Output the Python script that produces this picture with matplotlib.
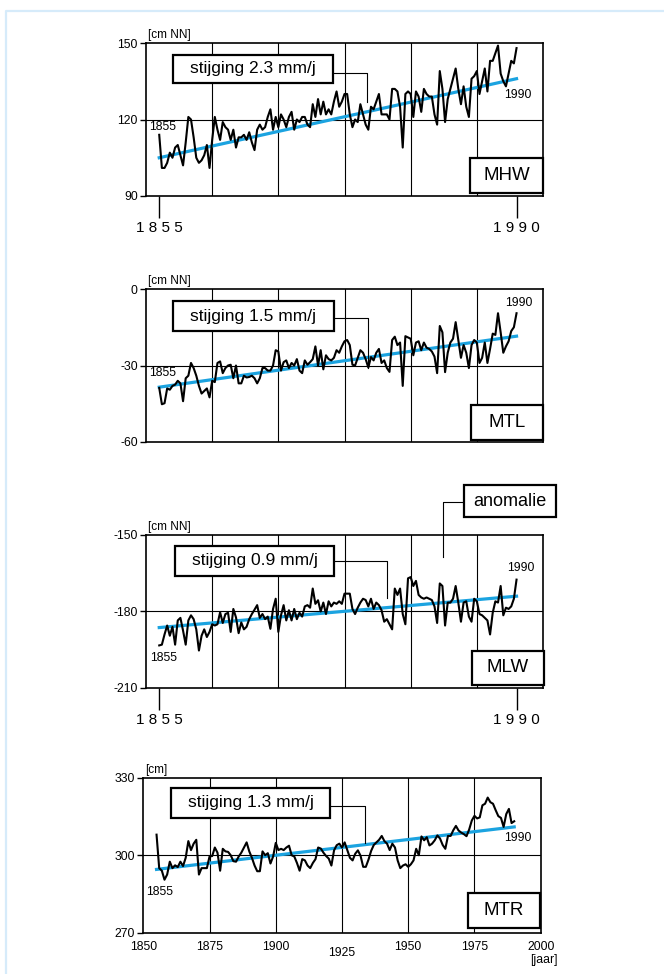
import numpy as np
import matplotlib
matplotlib.use('Agg')
import matplotlib.pyplot as plt
from matplotlib.patches import Rectangle
from matplotlib.lines import Line2D

plt.rcParams['font.family'] = ['Liberation Sans', 'DejaVu Sans']
plt.rcParams['axes.unicode_minus'] = False

W, H = 664, 974

years = np.arange(1855, 1991)

# yearly means (cm)
mhw = [114, 101, 101, 103, 107, 105, 109, 110, 106, 102,
       111, 121, 120, 113, 105, 103, 104, 106, 110, 101,
       112, 121, 116, 112, 119, 117, 116, 112, 116, 109,
       113, 113, 114, 112, 115, 111, 108, 116, 118, 116,
       117, 121, 124, 116, 121, 117, 122, 120, 117, 121,
       123, 116, 120, 119, 121, 121, 118, 117, 126, 121,
       128, 122, 127, 122, 124,
       122, 127, 131, 125, 127, 130, 130, 122, 117, 120,
       119, 126, 122, 118, 116, 125, 124, 127, 130, 122,
       122, 122, 120, 132, 132, 131, 125, 109, 130, 131,
       130, 121, 131, 129, 123, 132, 130, 129, 129, 122,
       118, 139, 132, 119, 128, 132, 136, 140, 132, 126,
       133, 125, 121, 136, 137, 139, 130, 135, 140, 131,
       143, 143, 146, 149, 138, 135, 133, 138, 143, 142,
       148]

mtl = [-38.8, -45.2, -44.8, -39, -39.5, -38, -37.5, -36, -37, -44,
       -35, -34, -29, -31, -34, -38, -41, -40, -39, -42.5,
       -36, -36.5, -29, -28.4, -33, -31, -30, -29.7, -35, -30,
       -37, -37, -34, -34.7, -34.5, -34, -35, -37, -35, -31,
       -31, -32, -32, -30, -24, -24.5, -32, -28.7, -28, -31,
       -29, -30, -27.5, -32, -33, -28, -29.7, -28.7, -27.5, -22.5,
       -30, -24, -31.5, -26, -27.5, -28, -27, -24, -25,
       -22.5, -20.5, -20, -22, -29.7, -30, -27, -24, -25, -27.5,
       -30.8, -26.7, -28, -25, -23.5, -29, -28, -31, -32.5, -20,
       -18.7, -22, -21, -38, -18.5, -19, -19.5, -26, -21, -20.5,
       -24, -21, -23, -23.5, -24.5, -26.5, -33, -14.5, -17, -32.6,
       -25, -21, -19.5, -13, -20, -27, -22, -25, -31, -22,
       -20, -21, -29, -27, -21, -29, -23.5, -17.5, -18, -9.5,
       -17, -25, -22.5, -20.5, -16.5, -15, -9.5]

mlw = [-193.3, -193, -189, -185.5, -189.5, -186, -193, -183.5, -182.5, -187.5,
       -193, -183.5, -181.5, -183, -187, -195.3, -189.5, -187, -190, -188,
       -185, -185.5, -185, -180.3, -184.5, -181, -180.5, -188, -179, -182.3,
       -188.5, -184.3, -187, -186, -183, -181, -179.3, -177.5, -182.5, -181,
       -183, -182, -186.8, -179, -175, -188, -181.5, -177.5, -183.5, -179.5,
       -183.5, -179, -183, -180.5, -182, -178, -177.5, -178.5, -171, -177,
       -175.6, -180, -176.5, -181, -176, -178, -176.5, -177, -176,
       -177, -173, -173, -173, -179, -181, -178.5, -176.5, -175, -175.5,
       -178, -175, -179, -176.5, -177.5, -179.5, -184, -183, -185, -187,
       -171, -173.5, -171, -181, -185, -167, -166.5, -170, -168, -173.5,
       -174.5, -175, -174.5, -175, -175.5, -178, -184.5, -169, -170, -185.5,
       -176.5, -176.5, -175, -170, -176.5, -184, -176.5, -176, -182, -184,
       -175, -176, -181, -181.5, -182.5, -183.5, -189, -180.5, -176, -176.5,
       -170, -181.5, -178.5, -179, -178, -175, -167.5]

mtr = [308, 295, 294, 290.5, 292.5, 297.5, 295, 296.1, 295.4, 297.5,
       295.8, 299, 305.5, 302, 304.5, 306, 292.5, 295, 295, 295,
       299.5, 299.7, 303, 301, 294, 302.5, 301.5, 301.3, 300, 297.7,
       297.5, 299.5, 301, 303, 305, 301.5, 299, 296, 293.8, 293.8,
       301.5, 300, 300.8, 296.8, 299.5, 304.8, 302, 302.5, 302, 303,
       303.7, 300, 299.5, 297, 294, 298.5, 298, 296, 295, 297,
       298.5, 303,
       302.6, 301, 299.7, 298.7, 296, 301.9, 303.9, 304.5, 303, 305,
       302, 299, 298, 300.6, 301.9, 299.8, 295.5, 295.5, 298.3, 301.7,
       304, 305, 306, 307.5, 305.5, 304.5, 302, 304.5, 303, 298,
       295, 296, 296.5, 295.5, 296.5, 298, 302.5, 300, 307.3, 305.8,
       307, 303.8, 304.5, 305.8, 307.7, 306.5, 304, 302.5, 307.5, 307.5,
       309.7, 311.4, 309.6, 308.8, 308.2, 307.4, 310, 313.5, 315.3, 314.3,
       314.7, 319.4, 320, 322.4, 320.6, 320, 317.5, 315.2, 314.5, 311,
       316, 318, 312.5, 313.2]

# trend lines: value in 1855 and in 1990
trend_mhw = [105, 136]
trend_mtl = [-38.5, -18.5]
trend_mlw = [-186.3, -174]
trend_mtr = [294.5, 311]

names = ['MHW', 'MTL', 'MLW', 'MTR']
rates = ['stijging 2.3 mm/j', 'stijging 1.5 mm/j', 'stijging 0.9 mm/j', 'stijging 1.3 mm/j']
yticks = [[90, 120, 150], [-60, -30, 0], [-210, -180, -150], [270, 300, 330]]
units = ['[cm NN]', '[cm NN]', '[cm NN]', '[cm]']
grid_years = [1875, 1900, 1925, 1950, 1975]
bottom_years = [1850, 1875, 1900, 1925, 1950, 1975, 2000]

series = [mhw, mtl, mlw, mtr]
trends = [trend_mhw, trend_mtl, trend_mlw, trend_mtr]

# layout in pixels: left, top, right, bottom
frames = [(146, 43, 543, 196), (146, 289, 543, 442),
          (146, 535, 543, 688), (143.3, 778, 540.7, 932.5)]
rate_boxes = [(173, 55, 333, 83), (173, 301, 334, 331),
              (175, 546, 334, 576), (171, 788, 330, 818)]
leaders = [[(333, 72.7), (367, 72.7), (367, 102)],
           [(334, 318.3), (368.3, 318.3), (368.3, 368.3)],
           [(334, 561), (387.3, 561), (387.3, 598.3)],
           [(330, 806), (365, 806), (365, 843.3)]]
name_boxes = [(470, 158, 543, 193), (471, 405, 543, 440),
              (472, 651, 544, 685), (468, 893, 540, 928)]
lab1855 = [(162.5, 127), (162.5, 373.5), (164, 658), (160, 892)]
lab1990 = [(517.5, 95), (519, 303), (521, 568), (518, 838)]

blue = '#1ba3e0'


def fx(x):
    return x / W


def fy(y):
    return 1 - y / H


def box(x0, y0, x1, y1, text, size):
    fig.patches.append(Rectangle((fx(x0), fy(y1)), fx(x1) - fx(x0), fy(y0) - fy(y1),
                                 transform=fig.transFigure, facecolor='white',
                                 edgecolor='black', lw=1.6, zorder=10))
    fig.text(fx((x0 + x1) / 2), fy((y0 + y1) / 2), text, ha='center', va='center',
             fontsize=size, zorder=11)


def leader(pts):
    fig.lines.append(Line2D([fx(p[0]) for p in pts], [fy(p[1]) for p in pts],
                            transform=fig.transFigure, color='black', lw=0.8, zorder=9))


fig = plt.figure(figsize=(W / 100, H / 100), dpi=100)

# light blue page frame
fig.lines.append(Line2D([fx(6), fx(6), fx(670)], [fy(990), fy(11), fy(11)],
                        transform=fig.transFigure, color='#d6ebfa', lw=1.6))

for i in range(4):
    l, t, r, b = frames[i]
    ax = fig.add_axes([fx(l), fy(b), fx(r) - fx(l), fy(t) - fy(b)])
    ax.set_xlim(1850, 2000)
    ax.set_ylim(yticks[i][0], yticks[i][2])
    for yr in grid_years:
        ax.axvline(yr, color='black', lw=0.8, zorder=1)
    ax.axhline(yticks[i][1], color='black', lw=0.8, zorder=1)

    ax.plot([years[0], years[-1]], trends[i], color=blue, lw=2.3, zorder=2)
    ax.plot(years, series[i], color='black', lw=1.5, zorder=3)

    for s in ax.spines.values():
        s.set_linewidth(1.2)
    ax.set_yticks(yticks[i])
    ax.tick_params(axis='y', direction='out', length=4, width=1, labelsize=8.8, pad=2)

    if i in (0, 2):
        ax.set_xticks([1855, 1990])
        ax.set_xticklabels(['1 8 5 5', '1 9 9 0'])
        ax.tick_params(axis='x', direction='out', length=16, width=1, labelsize=11, pad=2)
    elif i == 1:
        ax.set_xticks([])
    else:
        ax.set_xticks([])
        for yr in bottom_years:
            dy = -20 if yr == 1925 else -14
            ax.annotate(str(yr), xy=(yr, 0), xycoords=('data', 'axes fraction'),
                        xytext=(0, dy), textcoords='offset pixels',
                        ha='center', va='center', fontsize=8.8)
        ax.annotate('[jaar]', xy=(2000, 0), xycoords=('data', 'axes fraction'),
                    xytext=(-11, -27), textcoords='offset pixels',
                    ha='left', va='center', fontsize=8.8)

    ax.annotate(units[i], xy=(0, 1), xycoords='axes fraction', xytext=(2, 8),
                textcoords='offset pixels', ha='left', va='center', fontsize=8.5)

    fig.text(fx(lab1855[i][0]), fy(lab1855[i][1]), '1855', ha='center', va='center', fontsize=8.8)
    fig.text(fx(lab1990[i][0]), fy(lab1990[i][1]), '1990', ha='center', va='center', fontsize=8.8)

    leader(leaders[i])
    box(*rate_boxes[i], rates[i], 12.5)
    box(*name_boxes[i], names[i], 13.5)

# anomalie callout in the MLW panel
leader([(464, 501.7), (442.7, 501.7), (442.7, 556.7)])
box(464, 485, 556, 517, 'anomalie', 13)

fig.savefig('out.png', dpi=100)
